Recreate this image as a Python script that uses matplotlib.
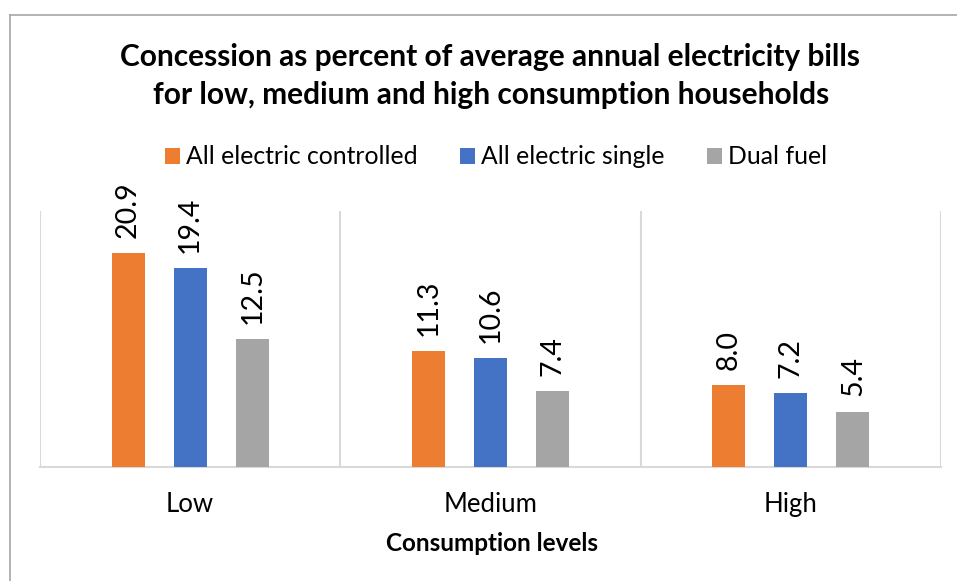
import matplotlib
matplotlib.use("Agg")
import matplotlib.pyplot as plt
from matplotlib.lines import Line2D
from matplotlib.patches import Patch
from matplotlib.transforms import blended_transform_factory
import numpy as np

categories = ["Low", "Medium", "High"]
series_names = ["All electric controlled", "All electric single", "Dual fuel"]
all_electric_controlled = [20.9, 11.3, 8.0]
all_electric_single = [19.4, 10.6, 7.2]
dual_fuel = [12.5, 7.4, 5.4]
colors = ["#ED7D31", "#4472C4", "#A5A5A5"]

title_lines = ["Concession as percent of average annual electricity bills",
               "for low, medium and high consumption households"]
xlabel = "Consumption levels"

plt.rcParams['font.family'] = ['Lato', 'DejaVu Sans']

W, H = 957, 581
fig = plt.figure(figsize=(W/100, H/100), dpi=100)
ax = fig.add_axes([40/W, 1-467/H, 901/W, 256/H])

series = [all_electric_controlled, all_electric_single, dual_fuel]
x = np.arange(len(categories))
offset = 62/300
width = 33/300
for i, (vals, c) in enumerate(zip(series, colors)):
    xs = x + (i-1)*offset
    ax.bar(xs, vals, width=width, color=c, zorder=3)
    for xv, v in zip(xs, vals):
        ax.annotate(f"{v:.1f}", (xv, v), xytext=(0, 11), textcoords="offset points",
                    rotation=90, ha="center", va="bottom", fontsize=20.5, color="#000000")

ax.set_xlim(-0.5, 2.5)
ax.set_ylim(0, 25)
for s in ["top", "right", "left"]:
    ax.spines[s].set_visible(False)
ax.spines["bottom"].set_color("#d9d9d9")
ax.spines["bottom"].set_linewidth(1.5)
for xv in [-0.5, 0.5, 1.5, 2.5]:
    ax.axvline(xv, color="#d9d9d9", lw=1.5, zorder=1)
ax.set_yticks([])
ax.set_xticks([])

trans = blended_transform_factory(ax.transData, fig.transFigure)
for xv, lab in zip(x, categories):
    ax.text(xv, 1-512/H, lab, transform=trans, ha="center", va="baseline", fontsize=18.5)

fig.text(492/W, 1-551/H, xlabel, ha="center", va="baseline", fontsize=17.5, fontweight="bold")

fig.text(490/W, 1-66/H, title_lines[0], ha="center", va="baseline", fontsize=21.5, fontweight="bold")
fig.text(491/W, 1-104/H, title_lines[1], ha="center", va="baseline", fontsize=21.5, fontweight="bold")

handles = [Patch(facecolor=c, edgecolor="none") for c in colors]
fig.legend(handles, series_names, loc="center", bbox_to_anchor=(496/W, 1-157/H), ncol=3,
           frameon=False, fontsize=17.8, handlelength=0.62, handleheight=0.62,
           handletextpad=0.25, columnspacing=1.7, borderpad=0, borderaxespad=0)

# chart border
fig.add_artist(Line2D([10/W, 10/W], [0, 1-15/H], color="#a6a6a6", lw=1.2))
fig.add_artist(Line2D([10/W, 1], [1-15/H, 1-15/H], color="#a6a6a6", lw=1.2))

fig.savefig("out.png", dpi=100)
